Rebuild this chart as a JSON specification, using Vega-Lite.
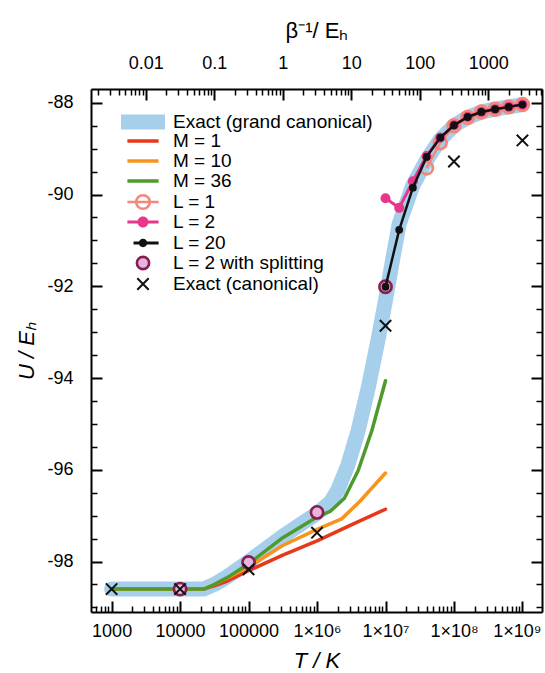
{
  "$schema": "https://vega.github.io/schema/vega-lite/v6.json",
  "width": 451,
  "height": 523,
  "autosize": {"type": "none"},
  "padding": {"left": 91, "top": 89, "right": 3, "bottom": 61},
  "background": "white",
  "config": {
    "view": {"stroke": null},
    "axis": {
      "grid": false,
      "labelFont": "Liberation Sans",
      "labelFontSize": 18,
      "labelColor": "black",
      "titleFont": "Liberation Sans",
      "titleFontSize": 22,
      "titleFontWeight": "normal",
      "titleColor": "black",
      "domainColor": "black",
      "domainWidth": 2,
      "tickColor": "black",
      "labelFlush": false,
      "labelOverlap": false
    },
    "legend": {
      "orient": "none",
      "title": null,
      "padding": 0,
      "rowPadding": 0,
      "clipHeight": 20,
      "labelFont": "Liberation Sans",
      "labelFontSize": 19,
      "labelColor": "black",
      "labelLimit": 400
    }
  },
  "data": {
    "values": [
      {"series": "Exact (grand canonical)", "T": 1000, "U": -98.6},
      {"series": "Exact (grand canonical)", "T": 10000, "U": -98.6},
      {"series": "Exact (grand canonical)", "T": 22000, "U": -98.6},
      {"series": "Exact (grand canonical)", "T": 31600, "U": -98.5},
      {"series": "Exact (grand canonical)", "T": 50100, "U": -98.32},
      {"series": "Exact (grand canonical)", "T": 100000, "U": -98.0},
      {"series": "Exact (grand canonical)", "T": 316000, "U": -97.45},
      {"series": "Exact (grand canonical)", "T": 1000000, "U": -96.95},
      {"series": "Exact (grand canonical)", "T": 1580000, "U": -96.7},
      {"series": "Exact (grand canonical)", "T": 2000000, "U": -96.45},
      {"series": "Exact (grand canonical)", "T": 2820000, "U": -95.9},
      {"series": "Exact (grand canonical)", "T": 3980000, "U": -95.15},
      {"series": "Exact (grand canonical)", "T": 5620000, "U": -94.2},
      {"series": "Exact (grand canonical)", "T": 7940000, "U": -93.1},
      {"series": "Exact (grand canonical)", "T": 10000000, "U": -92.3},
      {"series": "Exact (grand canonical)", "T": 12600000, "U": -91.45},
      {"series": "Exact (grand canonical)", "T": 15800000, "U": -90.65},
      {"series": "Exact (grand canonical)", "T": 25100000, "U": -89.8},
      {"series": "Exact (grand canonical)", "T": 39800000, "U": -89.25},
      {"series": "Exact (grand canonical)", "T": 63100000, "U": -88.8},
      {"series": "Exact (grand canonical)", "T": 100000000, "U": -88.5},
      {"series": "Exact (grand canonical)", "T": 158000000, "U": -88.32},
      {"series": "Exact (grand canonical)", "T": 251000000, "U": -88.2},
      {"series": "Exact (grand canonical)", "T": 398000000, "U": -88.14},
      {"series": "Exact (grand canonical)", "T": 631000000, "U": -88.09},
      {"series": "Exact (grand canonical)", "T": 1000000000, "U": -88.04},

      {"series": "M = 1", "T": 1000, "U": -98.6},
      {"series": "M = 1", "T": 22000, "U": -98.6},
      {"series": "M = 1", "T": 31600, "U": -98.53},
      {"series": "M = 1", "T": 50100, "U": -98.42},
      {"series": "M = 1", "T": 100000, "U": -98.2},
      {"series": "M = 1", "T": 316000, "U": -97.86},
      {"series": "M = 1", "T": 1000000, "U": -97.55},
      {"series": "M = 1", "T": 3160000, "U": -97.2},
      {"series": "M = 1", "T": 10000000, "U": -96.86},

      {"series": "M = 10", "T": 1000, "U": -98.6},
      {"series": "M = 10", "T": 22000, "U": -98.6},
      {"series": "M = 10", "T": 31600, "U": -98.5},
      {"series": "M = 10", "T": 50100, "U": -98.35},
      {"series": "M = 10", "T": 100000, "U": -98.12},
      {"series": "M = 10", "T": 316000, "U": -97.65},
      {"series": "M = 10", "T": 1000000, "U": -97.3},
      {"series": "M = 10", "T": 2290000, "U": -97.07},
      {"series": "M = 10", "T": 4270000, "U": -96.68},
      {"series": "M = 10", "T": 10000000, "U": -96.07},

      {"series": "M = 36", "T": 1000, "U": -98.6},
      {"series": "M = 36", "T": 22400, "U": -98.6},
      {"series": "M = 36", "T": 31600, "U": -98.5},
      {"series": "M = 36", "T": 50100, "U": -98.34},
      {"series": "M = 36", "T": 100000, "U": -98.05},
      {"series": "M = 36", "T": 316000, "U": -97.48},
      {"series": "M = 36", "T": 1000000, "U": -97.03},
      {"series": "M = 36", "T": 1580000, "U": -96.9},
      {"series": "M = 36", "T": 2510000, "U": -96.62},
      {"series": "M = 36", "T": 3980000, "U": -96.02},
      {"series": "M = 36", "T": 6310000, "U": -95.15},
      {"series": "M = 36", "T": 10000000, "U": -94.06},

      {"series": "L = 1", "T": 39810717, "U": -89.42},
      {"series": "L = 1", "T": 63095734, "U": -88.87},
      {"series": "L = 1", "T": 100000000, "U": -88.5},
      {"series": "L = 1", "T": 158489319, "U": -88.32},
      {"series": "L = 1", "T": 251188643, "U": -88.2},
      {"series": "L = 1", "T": 398107171, "U": -88.14},
      {"series": "L = 1", "T": 630957344, "U": -88.09},
      {"series": "L = 1", "T": 1000000000, "U": -88.04},

      {"series": "L = 2", "T": 10000000, "U": -90.08},
      {"series": "L = 2", "T": 15848932, "U": -90.29},
      {"series": "L = 2", "T": 25118864, "U": -89.71},
      {"series": "L = 2", "T": 39810717, "U": -89.16},
      {"series": "L = 2", "T": 63095734, "U": -88.76},
      {"series": "L = 2", "T": 100000000, "U": -88.49},
      {"series": "L = 2", "T": 158489319, "U": -88.31},
      {"series": "L = 2", "T": 251188643, "U": -88.2},
      {"series": "L = 2", "T": 398107171, "U": -88.14},
      {"series": "L = 2", "T": 630957344, "U": -88.09},
      {"series": "L = 2", "T": 1000000000, "U": -88.04},

      {"series": "L = 20", "T": 10000000, "U": -92.01},
      {"series": "L = 20", "T": 15848932, "U": -90.77},
      {"series": "L = 20", "T": 25118864, "U": -89.85},
      {"series": "L = 20", "T": 39810717, "U": -89.18},
      {"series": "L = 20", "T": 63095734, "U": -88.76},
      {"series": "L = 20", "T": 100000000, "U": -88.49},
      {"series": "L = 20", "T": 158489319, "U": -88.31},
      {"series": "L = 20", "T": 251188643, "U": -88.2},
      {"series": "L = 20", "T": 398107171, "U": -88.14},
      {"series": "L = 20", "T": 630957344, "U": -88.09},
      {"series": "L = 20", "T": 1000000000, "U": -88.04},

      {"series": "L = 2 with splitting", "T": 10000, "U": -98.6},
      {"series": "L = 2 with splitting", "T": 100000, "U": -98.02},
      {"series": "L = 2 with splitting", "T": 1000000, "U": -96.93},
      {"series": "L = 2 with splitting", "T": 10000000, "U": -92.01},

      {"series": "Exact (canonical)", "T": 1000, "U": -98.6},
      {"series": "Exact (canonical)", "T": 10000, "U": -98.6},
      {"series": "Exact (canonical)", "T": 100000, "U": -98.17},
      {"series": "Exact (canonical)", "T": 1000000, "U": -97.37},
      {"series": "Exact (canonical)", "T": 10000000, "U": -92.86},
      {"series": "Exact (canonical)", "T": 100000000, "U": -89.28},
      {"series": "Exact (canonical)", "T": 1000000000, "U": -88.82}
    ]
  },
  "encoding": {
    "x": {"field": "T", "type": "quantitative", "scale": {"type": "log", "domain": [500, 1930000000], "nice": false}, "axis": null},
    "y": {"field": "U", "type": "quantitative", "scale": {"domain": [-99.1, -87.7], "nice": false, "zero": false}, "axis": null}
  },
  "layer": [
    {
      "transform": [{"filter": "datum.series === 'Exact (grand canonical)'"}],
      "mark": {"type": "line", "strokeWidth": 15, "strokeCap": "round", "strokeJoin": "round"},
      "encoding": {
        "x": {
          "field": "T", "type": "quantitative",
          "scale": {"type": "log", "domain": [500, 1930000000], "nice": false},
          "axis": {
            "orient": "bottom",
            "title": "T / K",
            "titleFontStyle": "italic",
            "titlePadding": 10,
            "values": [1000,10000,100000,1000000,10000000,100000000,1000000000],
            "tickSize": -11,
            "tickWidth": 2,
            "labelPadding": 21,
            "labelFlush": 20,
            "labelFlushOffset": 18.5,
            "labelExpr": "datum.value < 500000 ? format(datum.value, 'd') : datum.value < 5000000 ? '1×10⁶' : datum.value < 50000000 ? '1×10⁷' : datum.value < 500000000 ? '1×10⁸' : '1×10⁹'"
          }
        },
        "y": {
          "field": "U", "type": "quantitative",
          "scale": {"domain": [-99.1, -87.7], "nice": false, "zero": false},
          "axis": {
            "orient": "left",
            "title": "U / Eₕ",
            "titleFontStyle": "italic",
            "titlePadding": 8,
            "values": [-98,-96,-94,-92,-90,-88],
            "tickSize": -11,
            "tickWidth": 2,
            "labelPadding": 29,
            "labelExpr": "'' + datum.value"
          }
        },
        "color": {
          "field": "series", "type": "nominal",
          "scale": {"domain": ["Exact (grand canonical)"], "range": ["#a6cfec"]},
          "legend": {
            "legendX": 24.5, "legendY": 23,
            "symbolSize": 1600, "symbolType": "M-1.1,0L1.1,0", "symbolStrokeWidth": 15,
            "labelOffset": 2.5
          }
        }
      }
    },
    {
      "transform": [{"filter": "datum.series === 'M = 1'"}],
      "mark": {"type": "line", "strokeWidth": 3.5, "strokeCap": "round", "strokeJoin": "round"},
      "encoding": {
        "x": {
          "field": "T", "type": "quantitative",
          "scale": {"type": "log", "domain": [500, 1930000000], "nice": false},
          "axis": {
            "orient": "bottom", "title": null, "labels": false, "domain": false,
            "values": [600,700,800,900,2000,3000,4000,5000,6000,7000,8000,9000,20000,30000,40000,50000,60000,70000,80000,90000,200000,300000,400000,500000,600000,700000,800000,900000,2000000,3000000,4000000,5000000,6000000,7000000,8000000,9000000,20000000,30000000,40000000,50000000,60000000,70000000,80000000,90000000,200000000,300000000,400000000,500000000,600000000,700000000,800000000,900000000],
            "tickSize": -6, "tickWidth": 1.5
          }
        },
        "y": {
          "field": "U", "type": "quantitative",
          "scale": {"domain": [-99.1, -87.7], "nice": false, "zero": false},
          "axis": {
            "orient": "left", "title": null, "labels": false, "domain": false,
            "values": [-99,-98.5,-97.5,-97,-96.5,-95.5,-95,-94.5,-93.5,-93,-92.5,-91.5,-91,-90.5,-89.5,-89,-88.5],
            "tickSize": -6, "tickWidth": 1.5
          }
        },
        "stroke": {
          "field": "series", "type": "nominal",
          "scale": {"domain": ["M = 1", "M = 10", "M = 36"], "range": ["#e8381b", "#f7941d", "#4f9a2c"]},
          "legend": {
            "legendX": 30, "legendY": 42,
            "symbolSize": 1600, "symbolType": "M-0.78,0L0.78,0", "symbolStrokeWidth": 3.3,
            "labelOffset": 8
          }
        }
      }
    },
    {
      "transform": [{"filter": "datum.series === 'M = 10'"}],
      "mark": {"type": "line", "strokeWidth": 3.5, "strokeCap": "round", "strokeJoin": "round"},
      "encoding": {
        "x": {
          "field": "T", "type": "quantitative",
          "scale": {"type": "log", "domain": [500, 1930000000], "nice": false},
          "axis": {
            "orient": "top",
            "title": "β⁻¹/ Eₕ",
            "titlePadding": 12,
            "values": [3157.75,31577.5,315775,3157750,31577500,315775000],
            "tickSize": -11, "tickWidth": 2,
            "labelPadding": 28,
            "labelExpr": "format(datum.value/315775, '~g')"
          }
        },
        "y": {
          "field": "U", "type": "quantitative",
          "scale": {"domain": [-99.1, -87.7], "nice": false, "zero": false},
          "axis": {
            "orient": "right", "title": null, "labels": false,
            "values": [-98,-96,-94,-92,-90,-88],
            "tickSize": -11, "tickWidth": 2
          }
        },
        "stroke": {
          "field": "series", "type": "nominal",
          "scale": {"domain": ["M = 1", "M = 10", "M = 36"], "range": ["#e8381b", "#f7941d", "#4f9a2c"]},
          "legend": {
            "legendX": 30, "legendY": 42,
            "symbolSize": 1600, "symbolType": "M-0.78,0L0.78,0", "symbolStrokeWidth": 3.3,
            "labelOffset": 8
          }
        }
      }
    },
    {
      "transform": [{"filter": "datum.series === 'M = 36'"}],
      "mark": {"type": "line", "strokeWidth": 3.5, "strokeCap": "round", "strokeJoin": "round"},
      "encoding": {
        "x": {
          "field": "T", "type": "quantitative",
          "scale": {"type": "log", "domain": [500, 1930000000], "nice": false},
          "axis": {
            "orient": "top", "title": null, "labels": false, "domain": false,
            "values": [631.55,947.325,1263.1,1578.875,1894.65,2210.425,2526.2,2841.975,6315.5,9473.25,12631,15788.75,18946.5,22104.25,25262,28419.75,63155,94732.5,126310,157887.5,189465,221042.5,252620,284197.5,631550,947325,1263100,1578875,1894650,2210425,2526200,2841975,6315500,9473250,12631000,15788750,18946500,22104250,25262000,28419750,63155000,94732500,126310000,157887500,189465000,221042500,252620000,284197500,631550000,947325000,1263100000,1578875000,1894650000],
            "tickSize": -6, "tickWidth": 1.5
          }
        },
        "y": {
          "field": "U", "type": "quantitative",
          "scale": {"domain": [-99.1, -87.7], "nice": false, "zero": false},
          "axis": {
            "orient": "right", "title": null, "labels": false, "domain": false,
            "values": [-99,-98.5,-97.5,-97,-96.5,-95.5,-95,-94.5,-93.5,-93,-92.5,-91.5,-91,-90.5,-89.5,-89,-88.5],
            "tickSize": -6, "tickWidth": 1.5
          }
        },
        "stroke": {
          "field": "series", "type": "nominal",
          "scale": {"domain": ["M = 1", "M = 10", "M = 36"], "range": ["#e8381b", "#f7941d", "#4f9a2c"]},
          "legend": {
            "legendX": 30, "legendY": 42,
            "symbolSize": 1600, "symbolType": "M-0.78,0L0.78,0", "symbolStrokeWidth": 3.3,
            "labelOffset": 8
          }
        }
      }
    },
    {
      "transform": [{"filter": "datum.series === 'L = 1'"}],
      "mark": {"type": "line", "stroke": "#f4877b", "strokeWidth": 2.5}
    },
    {
      "transform": [{"filter": "datum.series === 'L = 1'"}],
      "mark": {"type": "point", "shape": "circle", "filled": false, "stroke": "#f4877b", "strokeWidth": 2.8, "size": 160, "opacity": 1},
      "encoding": {
        "fill": {
          "field": "series", "type": "nominal",
          "scale": {"domain": ["L = 1"], "range": ["transparent"]},
          "legend": {
            "legendX": 30.5, "legendY": 103,
            "symbolSize": 1600,
            "symbolType": "M-0.78,0L0.78,0M0.34,0A0.34,0.34,0,1,1,-0.34,0A0.34,0.34,0,1,1,0.34,0Z",
            "symbolStrokeWidth": 2.6, "symbolStrokeColor": "#f4877b", "symbolFillColor": "transparent",
            "labelOffset": 8.5
          }
        }
      }
    },
    {
      "transform": [{"filter": "datum.series === 'L = 2'"}],
      "mark": {"type": "line", "stroke": "#e8368a", "strokeWidth": 3}
    },
    {
      "transform": [{"filter": "datum.series === 'L = 2'"}],
      "mark": {"type": "point", "shape": "circle", "filled": false, "fill": "#e8368a", "stroke": "#e8368a", "strokeWidth": 3, "size": 50},
      "encoding": {
        "opacity": {
          "field": "series", "type": "ordinal",
          "scale": {"domain": ["L = 2"], "range": [1, 1]},
          "legend": {
            "legendX": 30.5, "legendY": 123,
            "symbolSize": 1600,
            "symbolType": "M-0.78,-0.075L0.78,-0.075L0.78,0.075L-0.78,0.075Z M0.275,0A0.275,0.275,0,1,1,-0.275,0A0.275,0.275,0,1,1,0.275,0Z",
            "symbolStrokeWidth": 3, "symbolStrokeColor": "#e8368a", "symbolFillColor": "#e8368a",
            "labelOffset": 8.5
          }
        }
      }
    },
    {
      "transform": [{"filter": "datum.series === 'L = 2 with splitting'"}],
      "mark": {"type": "point", "shape": "circle", "filled": false, "stroke": "#8c1c50", "strokeWidth": 2.6, "size": 150, "opacity": 1},
      "encoding": {
        "fill": {
          "field": "series", "type": "nominal",
          "scale": {"domain": ["L = 2 with splitting"], "range": ["#e6b5df"]},
          "legend": {
            "legendX": 42.5, "legendY": 164,
            "symbolSize": 150, "symbolType": "circle", "symbolStrokeWidth": 2.6,
            "symbolStrokeColor": "#8c1c50", "symbolFillColor": "#e6b5df",
            "labelOffset": 20.5
          }
        }
      }
    },
    {
      "transform": [{"filter": "datum.series === 'L = 20'"}],
      "mark": {"type": "line", "stroke": "#111111", "strokeWidth": 2.5}
    },
    {
      "transform": [{"filter": "datum.series === 'L = 20'"}],
      "mark": {"type": "point", "shape": "circle", "filled": false, "fill": "#111111", "stroke": "#111111", "strokeWidth": 3, "opacity": 1},
      "encoding": {
        "size": {
          "field": "series", "type": "ordinal",
          "scale": {"domain": ["L = 20"], "range": [23, 23]},
          "legend": {
            "legendX": 42.5, "legendY": 144,
            "symbolType": "M-6.5,-0.625L6.5,-0.625L6.5,0.625L-6.5,0.625Z M1.75,0A1.75,1.75,0,1,1,-1.75,0A1.75,1.75,0,1,1,1.75,0Z",
            "symbolStrokeWidth": 3, "symbolStrokeColor": "#111111", "symbolFillColor": "#111111",
            "labelOffset": 20.5
          }
        }
      }
    },
    {
      "transform": [{"filter": "datum.series === 'Exact (canonical)'"}],
      "mark": {"type": "point", "filled": false, "stroke": "#111111", "strokeWidth": 2, "size": 130, "opacity": 1},
      "encoding": {
        "shape": {
          "field": "series", "type": "nominal",
          "scale": {"domain": ["Exact (canonical)"], "range": ["M-1,-1L1,1M-1,1L1,-1"]},
          "legend": {
            "legendX": 42.5, "legendY": 185,
            "symbolSize": 130, "symbolStrokeWidth": 2,
            "symbolStrokeColor": "#111111", "symbolFillColor": "transparent",
            "labelOffset": 20.5
          }
        }
      }
    }
  ],
  "resolve": {
    "axis": {"x": "independent", "y": "independent"},
    "scale": {"fill": "independent"},
    "legend": {"fill": "independent"}
  }
}
